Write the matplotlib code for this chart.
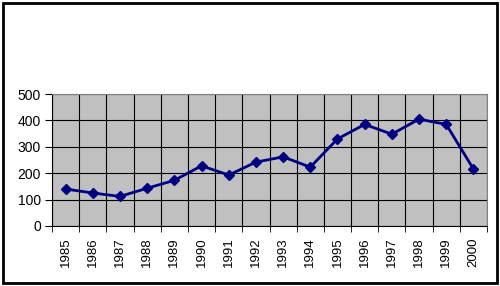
import numpy as np
import matplotlib.pyplot as plt
from matplotlib.patches import Rectangle

# dane
years = ['1985', '1986', '1987', '1988', '1989', '1990', '1991', '1992',
         '1993', '1994', '1995', '1996', '1997', '1998', '1999', '2000']
values = [140, 125, 112, 143, 173, 228, 193, 242,
          262, 223, 330, 385, 348, 405, 385, 216]
y_ticks = [0, 100, 200, 300, 400, 500]

plt.rcParams['font.family'] = ['Liberation Sans', 'DejaVu Sans']

fig = plt.figure(figsize=(5.0, 2.86), dpi=100)
fig.patches.append(Rectangle((0.006, 0.01), 0.988, 0.98, transform=fig.transFigure,
                             fill=False, edgecolor='black', linewidth=2))
ax = fig.add_axes([0.104, 0.21, 0.870, 0.461])

x = np.arange(len(years))
ax.plot(x, values, color='#000080', marker='D', markersize=5, linewidth=2)

ax.set_facecolor('#C0C0C0')
ax.set_xlim(-0.5, len(years) - 0.5)
ax.set_ylim(0, 500)
ax.set_yticks(y_ticks)
ax.set_xticks(x)
ax.set_xticklabels(years, rotation=90)
ax.set_xticks(np.arange(-0.5, len(years), 1), minor=True)
ax.tick_params(axis='x', which='major', length=0, labelsize=9.5, pad=8)
ax.tick_params(axis='x', which='minor', length=4, direction='out')
ax.tick_params(axis='y', length=5, labelsize=10, pad=3)
ax.grid(True, which='minor', axis='x', color='black', linewidth=0.8)
ax.grid(True, which='major', axis='y', color='black', linewidth=0.8)
ax.set_axisbelow(True)
for s in ['top', 'right']:
    ax.spines[s].set_color('#808080')

fig.savefig('out.png', dpi=100)
